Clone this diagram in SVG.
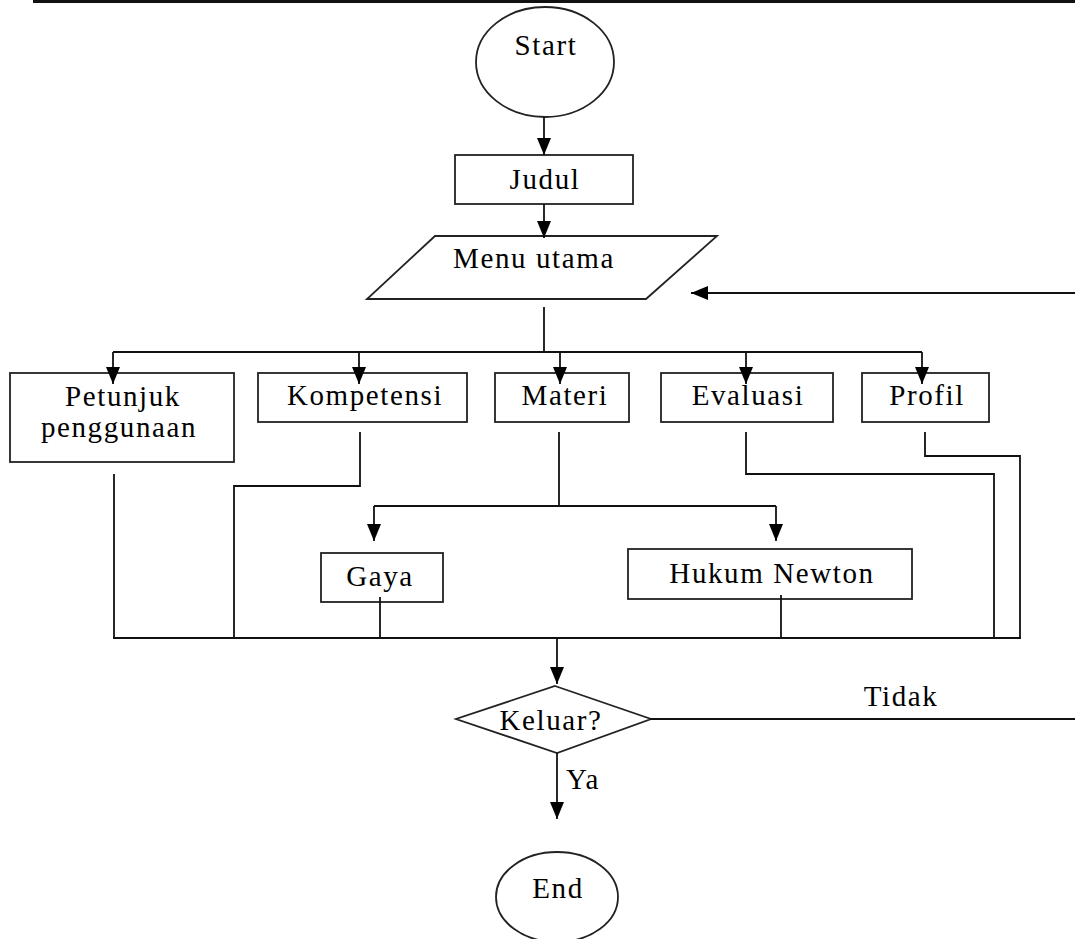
<svg xmlns="http://www.w3.org/2000/svg" width="1075" height="939" viewBox="0 0 1075 939">
<defs>
<marker id="ah" markerUnits="userSpaceOnUse" markerWidth="18" markerHeight="16" viewBox="0 0 18 16" refX="17" refY="8" orient="auto">
<path d="M0,1 L17,8 L0,15 Z" fill="#000"/>
</marker>
<style>
.sh{fill:#fff;stroke:#222;stroke-width:1.8}
.t{font-family:"Liberation Serif","Times New Roman",serif;font-size:29px;letter-spacing:1.6px;fill:#000;text-anchor:middle}
.c{fill:none;stroke:#111;stroke-width:1.8}
.a{fill:none;stroke:#111;stroke-width:1.8;marker-end:url(#ah)}
</style>
</defs>
<rect width="1075" height="939" fill="#fff"/>
<line x1="33" y1="1.5" x2="1075" y2="1.5" stroke="#111" stroke-width="3"/>

<g id="start">
<ellipse class="sh" cx="545" cy="62" rx="69" ry="55"/>
<text class="t" x="546" y="55">Start</text>
</g>
<g id="judul">
<rect class="sh" x="455" y="155" width="178" height="49"/>
<text class="t" x="545" y="189">Judul</text>
</g>
<g id="menu">
<polygon class="sh" points="435,236 717,236 646,299 367,299"/>
<text class="t" x="534" y="268">Menu utama</text>
</g>
<g id="petunjuk">
<rect class="sh" x="10" y="373" width="224" height="89"/>
<text class="t" x="123" y="406">Petunjuk</text>
<text class="t" x="119" y="437">penggunaan</text>
</g>
<g id="kompetensi">
<rect class="sh" x="258" y="373" width="209" height="49"/>
<text class="t" x="365" y="405">Kompetensi</text>
</g>
<g id="materi">
<rect class="sh" x="495" y="373" width="134" height="49"/>
<text class="t" x="565" y="405">Materi</text>
</g>
<g id="evaluasi">
<rect class="sh" x="661" y="373" width="172" height="49"/>
<text class="t" x="748" y="405">Evaluasi</text>
</g>
<g id="profil">
<rect class="sh" x="862" y="373" width="127" height="49"/>
<text class="t" x="927" y="405">Profil</text>
</g>
<g id="gaya">
<rect class="sh" x="321" y="553" width="122" height="49"/>
<text class="t" x="380" y="586">Gaya</text>
</g>
<g id="hukum">
<rect class="sh" x="628" y="549" width="284" height="50"/>
<text class="t" x="772" y="583">Hukum Newton</text>
</g>
<g id="keluar">
<polygon class="sh" points="555,686 651,719 557,753 456,719"/>
<text class="t" x="551" y="730">Keluar?</text>
</g>
<g id="end">
<ellipse class="sh" cx="557" cy="897" rx="61" ry="45"/>
<text class="t" x="558" y="898">End</text>
</g>

<g id="connectors">
<line class="a" x1="544" y1="117" x2="544" y2="155"/>
<line class="a" x1="544" y1="204" x2="544" y2="238"/>
<line class="a" x1="1075" y1="293" x2="691" y2="293"/>
<polyline class="c" points="544,307 544,352"/>
<line class="c" x1="113" y1="352" x2="922" y2="352"/>
<line class="a" x1="113" y1="352" x2="113" y2="384"/>
<line class="a" x1="359" y1="352" x2="359" y2="384"/>
<line class="a" x1="560" y1="352" x2="560" y2="384"/>
<line class="a" x1="746" y1="352" x2="746" y2="384"/>
<line class="a" x1="922" y1="352" x2="922" y2="384"/>
<polyline class="c" points="114,474 114,638"/>
<polyline class="c" points="360,432 360,486 234,486 234,638"/>
<polyline class="c" points="559,432 559,506"/>
<line class="c" x1="374" y1="506" x2="776" y2="506"/>
<line class="a" x1="374" y1="506" x2="374" y2="541"/>
<line class="a" x1="776" y1="506" x2="776" y2="541"/>
<polyline class="c" points="746,432 746,474 994,474 994,638"/>
<polyline class="c" points="925,432 925,456 1020,456 1020,638"/>
<line class="c" x1="380" y1="597" x2="380" y2="638"/>
<line class="c" x1="781" y1="595" x2="781" y2="638"/>
<line class="c" x1="113" y1="638" x2="1021" y2="638"/>
<line class="a" x1="557" y1="638" x2="557" y2="684"/>
<line class="c" x1="650" y1="719" x2="1075" y2="719"/>
<line class="a" x1="557" y1="753" x2="557" y2="819"/>
<text class="t" x="901" y="706">Tidak</text>
<text class="t" x="583" y="789">Ya</text>
</g>
</svg>
